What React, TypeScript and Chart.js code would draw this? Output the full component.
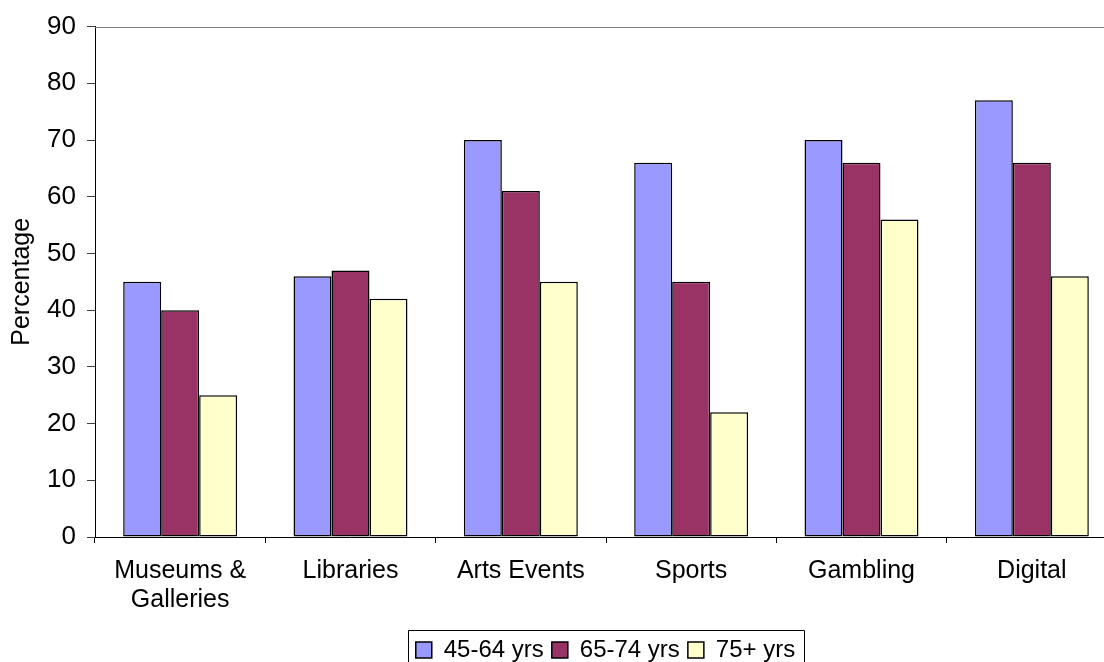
import React, { useEffect, useRef } from "react";
import { Chart, registerables } from "chart.js";

Chart.register(...registerables);

const categories: (string | string[])[] = [
  ["Museums &", "Galleries"],
  "Libraries",
  "Arts Events",
  "Sports",
  "Gambling",
  "Digital",
];
const seriesNames = ["45-64 yrs", "65-74 yrs", "75+ yrs"];
const age45to64 = [45, 46, 70, 66, 70, 77];
const age65to74 = [40, 47, 61, 45, 66, 66];
const age75plus = [25, 42, 45, 22, 56, 46];
const seriesColors = ["#9999FF", "#993366", "#FFFFCC"];
const yMin = 0;
const yMax = 90;
const yStep = 10;
const yTitle = "Percentage";

const FONT = "'Liberation Sans', Arial, sans-serif";
const LEGEND_PAD = 8;
const LEGEND_FONT = 24;

const framePlugin = {
  id: "frameTop",
  beforeDatasetsDraw(chart: any) {
    const { ctx, chartArea } = chart;
    ctx.save();
    ctx.strokeStyle = "#808080";
    ctx.lineWidth = 1;
    const y = Math.round(chartArea.top) + 0.5;
    ctx.beginPath();
    ctx.moveTo(chartArea.left, y);
    ctx.lineTo(chartArea.right, y);
    ctx.moveTo(Math.round(chartArea.right) + 0.5, chartArea.top);
    ctx.lineTo(Math.round(chartArea.right) + 0.5, chartArea.bottom);
    ctx.stroke();
    ctx.restore();
  },
};

const legendPlugin = {
  id: "legendBoxShift",
  afterLayout(chart: any) {
    const lg = chart.legend;
    if (!lg) return;
    const shift = 47;
    lg.left += shift;
    lg.right += shift;
  },
  afterDraw(chart: any) {
    const lg = chart.legend;
    if (!lg || !lg.lineWidths) return;
    const lw = lg.lineWidths[0];
    const x0 = (lg.left + LEGEND_PAD + lg.right - lw) / 2;
    const x1 = x0 + lw - LEGEND_PAD;
    const itemTop = lg.top + LEGEND_PAD;
    const { ctx } = chart;
    ctx.save();
    ctx.strokeStyle = "#000000";
    ctx.lineWidth = 1;
    const l = Math.round(x0 - 8) + 0.5;
    const r = Math.round(x1 + 9) + 0.5;
    const t = Math.round(itemTop - 8) + 0.5;
    const b = chart.height + 20;
    ctx.beginPath();
    ctx.moveTo(l, b);
    ctx.lineTo(l, t);
    ctx.lineTo(r, t);
    ctx.lineTo(r, b);
    ctx.stroke();
    ctx.restore();
  },
};

export default function App() {
  const ref = useRef<HTMLCanvasElement | null>(null);

  useEffect(() => {
    if (!ref.current) return;
    const data = [age45to64, age65to74, age75plus];
    const chart = new Chart(ref.current, {
      type: "bar",
      data: {
        labels: categories,
        datasets: seriesNames.map((name, i) => ({
          label: name,
          data: data[i],
          backgroundColor: seriesColors[i],
          borderColor: "#000000",
          borderWidth: 1.5,
          borderSkipped: false,
          categoryPercentage: 0.669,
          barPercentage: 1,
        })),
      },
      options: {
        responsive: false,
        animation: false,
        devicePixelRatio: 1,
        layout: { padding: { top: 25, left: 0, right: 93, bottom: 0 } },
        plugins: {
          tooltip: { enabled: false },
          title: { display: false },
          legend: {
            display: true,
            position: "bottom",
            labels: {
              color: "#000000",
              font: { family: FONT, size: LEGEND_FONT },
              boxWidth: 16,
              boxHeight: 16,
              padding: LEGEND_PAD,
            },
          },
        },
        scales: {
          x: {
            grid: {
              display: true,
              offset: true,
              drawOnChartArea: false,
              drawTicks: true,
              tickLength: 6,
              color: "#000000",
            },
            border: { display: true, color: "#000000", width: 1 },
            ticks: {
              color: "#000000",
              font: { family: FONT, size: 25, lineHeight: 1.15 },
              padding: 14,
              maxRotation: 0,
              autoSkip: false,
            },
            afterFit: (scale: any) => {
              scale.height = 93;
            },
          },
          y: {
            min: yMin,
            max: yMax,
            grid: {
              display: true,
              drawOnChartArea: false,
              drawTicks: true,
              tickLength: 8,
              color: "#404040",
            },
            border: { display: true, color: "#000000", width: 1 },
            ticks: {
              stepSize: yStep,
              color: "#000000",
              font: { family: FONT, size: 26 },
              padding: 11,
            },
            title: {
              display: true,
              text: yTitle,
              color: "#000000",
              font: { family: FONT, size: 25 },
              padding: { top: 7, bottom: 0 },
            },
            afterFit: (scale: any) => {
              scale.width = 95;
            },
          },
        },
      },
      plugins: [framePlugin, legendPlugin],
    });
    return () => chart.destroy();
  }, []);

  return (
    <div
      style={{
        position: "fixed",
        top: 0,
        left: 0,
        width: 1104,
        height: 662,
        overflow: "hidden",
        background: "#ffffff",
      }}
    >
      <canvas ref={ref} width={1210} height={672} style={{ display: "block" }} />
    </div>
  );
}
